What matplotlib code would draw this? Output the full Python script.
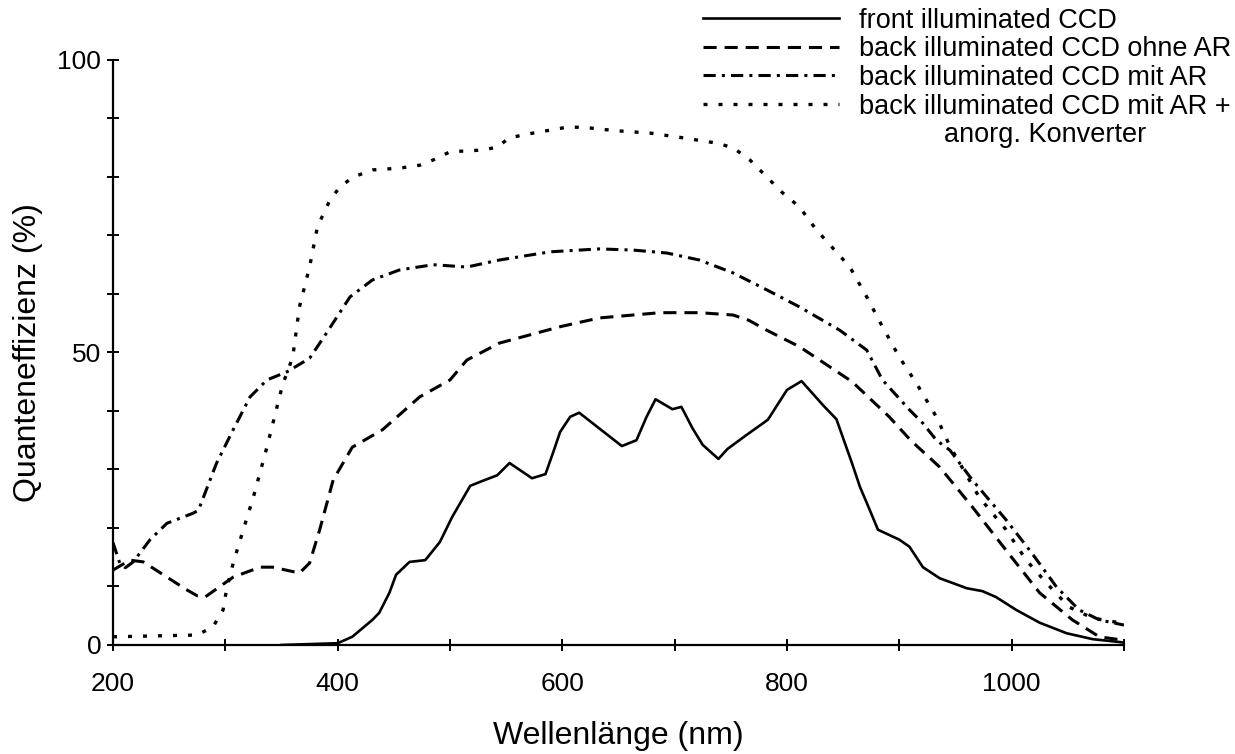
import numpy as np
import matplotlib
matplotlib.use("Agg")
import matplotlib.pyplot as plt
from matplotlib.ticker import MultipleLocator

plt.rcParams['font.family'] = ['Liberation Sans', 'DejaVu Sans']

# front illuminated CCD
wl_front = [350, 400, 413, 431, 437, 446, 452, 464, 478, 491, 502, 518, 527, 542, 553,
            573, 585, 592, 598, 607, 615, 653, 666, 675, 683, 698, 706, 716, 725, 739,
            747, 764, 783, 800, 813, 832, 844, 858, 865, 871, 881, 900, 909, 921, 936,
            960, 974, 986, 1004, 1025, 1049, 1072, 1096, 1100]
qe_front = [0, 0.3, 1.4, 4.3, 5.5, 8.9, 12, 14.2, 14.5, 17.6, 21.9, 27.2, 27.9, 29, 31.1,
            28.5, 29.2, 33, 36.4, 39, 39.7, 34, 35, 39, 42, 40.3, 40.7, 37, 34.2, 31.8,
            33.5, 35.9, 38.5, 43.6, 45.1, 41, 38.6, 31, 27, 24.3, 19.7, 18, 16.8, 13.3, 11.4,
            9.7, 9.2, 8.2, 6, 3.8, 2, 1, 0.5, 0.4]

# back illuminated CCD ohne AR
wl_back = [200, 215, 227, 248, 265, 275, 282, 307, 331, 342, 366, 375, 384, 396, 413,
           440, 473, 500, 515, 544, 598, 633, 687, 722, 752, 766, 782, 811, 858, 891,
           910, 936, 965, 995, 1025, 1054, 1078, 1100]
qe_back = [12.8, 14.5, 14.2, 11.6, 9.5, 8.4, 8.2, 11.6, 13.3, 13.3, 12.3, 14, 19.7, 28.2, 33.8,
           36.8, 42.4, 45.3, 48.7, 51.6, 54.4, 55.9, 56.8, 56.8, 56.4, 55.5, 53.8, 51, 45, 39,
           35, 30.4, 23.6, 16.2, 8.9, 4.3, 1.4, 0.8]

# back illuminated CCD mit AR
wl_ar = [200, 206, 211, 218, 233, 248, 271, 276, 292, 307, 322, 337, 355, 375, 390,
         411, 431, 455, 485, 515, 544, 589, 633, 663, 693, 722, 752, 782, 811, 847,
         871, 885, 909, 921, 933, 945, 965, 995, 1018, 1040, 1060, 1078, 1100]
qe_ar = [17.5, 14, 13.2, 14.2, 18, 20.8, 22.5, 23, 31, 36.8, 42.4, 45.3, 46.7, 49, 53.3,
         59.5, 62.4, 64.1, 65, 64.6, 65.8, 67.2, 67.7, 67.5, 67, 65.8, 63.6, 60.7, 57.8, 53.8,
         50.4, 45.3, 40.2, 37.9, 35, 33.3, 28.2, 21.4, 15.7, 9.9, 6, 4.3, 3.4]

# back illuminated CCD mit AR + anorg. Konverter
wl_conv = [200, 275, 289, 298, 301, 307, 316, 325, 337, 346, 351, 360, 366, 375, 382,
           393, 402, 414, 431, 455, 473, 485, 500, 529, 542, 553, 574, 604, 618, 648,
           678, 707, 737, 752, 767, 782, 796, 811, 826, 856, 871, 885, 900, 915, 933,
           945, 971, 995, 1013, 1031, 1051, 1072, 1096, 1100]
qe_conv = [1.4, 1.7, 3.1, 6, 9.4, 14, 19.7, 25.3, 33.8, 40.7, 44.5, 49.2, 57.8, 64.6, 71.5,
           76, 78.3, 80, 81.2, 81.5, 82, 82.9, 84.3, 84.6, 85.1, 86.7, 87.5, 88.5, 88.5, 87.9,
           87.5, 86.7, 85.8, 85, 82.9, 80, 77.3, 74.9, 71, 64.6, 59.5, 54.4, 49.2, 44.8, 39,
           34, 25.3, 19.7, 14.5, 10.6, 6.5, 4.6, 3.8, 3.7]

labels = ["front illuminated CCD",
          "back illuminated CCD ohne AR",
          "back illuminated CCD mit AR",
          "back illuminated CCD mit AR +"]
label_extra = "anorg. Konverter"

fig = plt.figure(figsize=(12.35, 7.54), dpi=100)
ax = fig.add_axes([0.0915, 0.1446, 0.8186, 0.7759])

ax.plot(wl_front, qe_front, color="black", lw=1.9, label=labels[0])
ax.plot(wl_back, qe_back, color="black", lw=2.2, linestyle=(0, (4.3, 2.6)), label=labels[1])
ax.plot(wl_ar, qe_ar, color="black", lw=2.2, linestyle=(0, (4.0, 2.0, 1.0, 2.0)), label=labels[2])
ax.plot(wl_conv, qe_conv, color="black", lw=2.4, linestyle=(0, (1.2, 3.3)), label=labels[3])

ax.set_xlim(200, 1100)
ax.set_ylim(0, 100)
ax.spines['top'].set_visible(False)
ax.spines['right'].set_visible(False)
ax.spines['left'].set_linewidth(1.6)
ax.spines['bottom'].set_linewidth(1.6)

ax.xaxis.set_major_locator(MultipleLocator(200))
ax.xaxis.set_minor_locator(MultipleLocator(100))
ax.yaxis.set_major_locator(MultipleLocator(50))
ax.yaxis.set_minor_locator(MultipleLocator(10))
ax.set_xticks([200, 400, 600, 800, 1000])
ax.tick_params(which='both', direction='inout', length=9, width=1.4, labelsize=19)
ax.tick_params(axis='y', which='both', pad=4)
ax.tick_params(axis='x', which='both', pad=15)

ax.set_xlabel("Wellenlänge (nm)", fontsize=23, labelpad=18)
ax.set_ylabel("Quanteneffizienz (%)", fontsize=23, labelpad=10)

leg = fig.legend(loc='upper right', bbox_to_anchor=(0.997, 0.99), frameon=False,
                 fontsize=19.5, handlelength=5.0, handletextpad=0.75,
                 labelspacing=0.1, borderaxespad=0, borderpad=0)

# zweite Zeile des letzten Legendeneintrags, zentriert darunter
fig.canvas.draw()
bb = leg.get_texts()[3].get_window_extent()
W, H = fig.canvas.get_width_height()
fig.text((bb.x0 + bb.x1) / 2 / W, (bb.y0 - 2) / H, label_extra,
         ha='center', va='top', fontsize=19.5)

fig.savefig("out.png", dpi=100)
